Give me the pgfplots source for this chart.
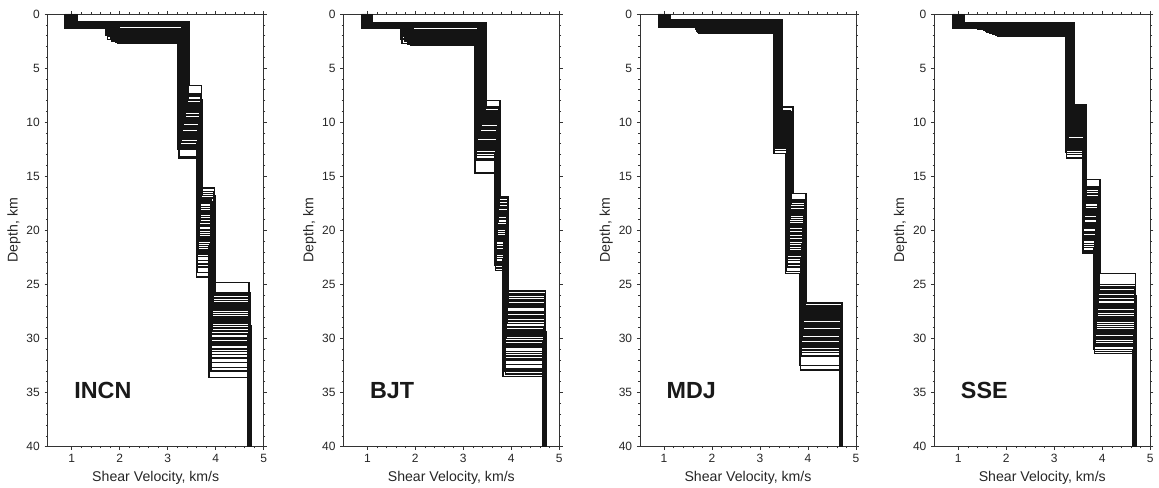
\documentclass[border=0pt]{standalone}
\usepackage{fontspec}
\setmainfont{Liberation Sans}
\usepackage{pgfplots}
\pgfplotsset{compat=1.18}

% one step profile: v1 d1 v2 d2 v3 d3 | v4 d4 v5 d5 v6  (velocity km/s, depth of layer base km)
\newcommand\prof[6]{\def\pA{#1}\def\dA{#2}\def\pB{#3}\def\dB{#4}\def\pC{#5}\def\dC{#6}\profb}
\newcommand\profb[5]{\edef\tmp{\noexpand\addplot[prof] coordinates {(\pA,0) (\pA,\dA) (\pB,\dA) (\pB,\dB) (\pC,\dB) (\pC,\dC) (#1,\dC) (#1,#2) (#3,#2) (#3,#4) (#5,#4) (#5,40)};}\tmp}

\tikzset{stn/.style={anchor=west, inner sep=0pt, font=\bfseries\fontsize{17.5}{19}\selectfont, black!90}}
\pgfplotsset{
  prof/.style={black!92, line width=1.1pt},
  vsplot/.style={
    scale only axis, width=162pt, height=324.5pt, anchor=south west,
    xmin=0.5, xmax=5, ymin=0, ymax=40, y dir=reverse,
    xtick={1,2,3,4,5}, ytick={0,5,...,40},
    minor x tick num=4, minor y tick num=4,
    tick align=outside, major tick length=2.4pt, minor tick length=1.3pt,
    axis line style={black!80, line width=0.6pt},
    every tick/.style={black!80, line width=0.45pt},
    /pgf/number format/assume math mode=true,
    tick label style={font=\fontsize{9}{10}\selectfont, black!85},
    label style={font=\fontsize{10.6}{12}\selectfont, black!85},
    xlabel={Shear Velocity, km/s}, ylabel={Depth, km},
    xlabel style={at={(axis description cs:0.5,0)}, anchor=center, yshift=-23.5pt},
    ylabel style={at={(axis description cs:-0.156,0.5)}, anchor=center},
  },
}

\begin{document}
\begin{tikzpicture}
\useasboundingbox (0,0) rectangle (869.25pt,366pt);

% ---------------- INCN ----------------
\begin{axis}[vsplot, at={(35.8pt,31pt)}]
\prof{0.95}{1.05}{1.80}{1.85}{3.30}{9.8}{3.64}{19.5}{3.92}{28.4}{4.68}
\prof{1.02}{0.90}{3.38}{0.90}{3.38}{8.2}{3.66}{17.2}{3.90}{26.3}{4.69}
\prof{0.88}{1.20}{1.75}{2.35}{3.25}{11.6}{3.62}{21.8}{3.88}{30.1}{4.67}
\prof{1.10}{0.75}{3.42}{0.75}{3.42}{7.6}{3.69}{16.4}{3.95}{25.9}{4.70}
\prof{0.92}{1.15}{1.92}{2.60}{3.22}{12.3}{3.61}{23.1}{3.86}{31.5}{4.66}
\prof{1.05}{0.85}{1.85}{1.50}{3.35}{9.1}{3.67}{18.3}{3.93}{27.2}{4.71}
\prof{0.98}{1.00}{3.32}{1.00}{3.32}{10.4}{3.63}{20.2}{3.91}{29.0}{4.68}
\prof{0.86}{1.28}{1.70}{1.95}{3.28}{11.0}{3.65}{21.0}{3.89}{28.0}{4.72}
\prof{1.08}{0.70}{3.44}{0.70}{3.44}{6.6}{3.70}{16.1}{3.97}{24.8}{4.69}
\prof{0.94}{1.10}{1.78}{2.10}{3.27}{10.9}{3.62}{22.4}{3.87}{30.6}{4.67}
\prof{1.00}{0.95}{1.88}{1.65}{3.36}{8.6}{3.68}{17.8}{3.94}{26.7}{4.70}
\prof{0.90}{1.25}{1.95}{2.70}{3.24}{13.2}{3.60}{24.3}{3.85}{32.7}{4.66}
\prof{1.06}{0.80}{3.40}{0.80}{3.40}{7.9}{3.71}{16.8}{3.99}{25.8}{4.71}
\prof{0.96}{1.12}{1.82}{2.20}{3.31}{10.1}{3.64}{19.9}{3.90}{28.8}{4.73}
\prof{0.89}{1.18}{3.29}{1.18}{3.29}{11.9}{3.61}{22.8}{3.88}{31.0}{4.66}
\prof{1.03}{0.92}{1.72}{1.40}{3.34}{9.4}{3.66}{18.7}{3.92}{27.6}{4.69}
\prof{0.93}{1.08}{1.90}{2.45}{3.26}{12.1}{3.63}{21.4}{3.86}{33.6}{4.68}
\prof{1.11}{0.68}{3.43}{0.68}{3.43}{8.0}{3.70}{17.0}{3.96}{26.0}{4.72}
\prof{0.97}{1.02}{1.76}{1.75}{3.33}{9.6}{3.65}{20.6}{3.91}{29.6}{4.67}
\prof{0.87}{1.30}{1.84}{2.55}{3.23}{13.3}{3.62}{23.9}{3.87}{32.2}{4.68}
\prof{1.04}{0.88}{3.37}{0.88}{3.37}{8.4}{3.67}{18.0}{3.94}{27.0}{4.70}
\prof{0.91}{1.16}{1.86}{2.30}{3.28}{10.7}{3.64}{20.9}{3.89}{30.3}{4.71}
\prof{0.99}{0.98}{1.74}{1.60}{3.35}{9.0}{3.68}{19.2}{3.93}{28.2}{4.69}
\prof{1.07}{0.78}{3.39}{0.78}{3.39}{7.4}{3.69}{16.6}{3.95}{26.5}{4.70}
\prof{0.92}{1.22}{1.98}{2.65}{3.21}{12.5}{3.61}{22.0}{3.88}{31.8}{4.67}
\prof{1.01}{0.96}{1.80}{1.90}{3.30}{10.3}{3.66}{19.0}{3.92}{29.3}{4.72}
\prof{0.95}{1.14}{3.31}{1.14}{3.31}{11.3}{3.63}{21.6}{3.90}{33.0}{4.68}
\prof{0.88}{1.24}{1.73}{2.00}{3.26}{11.8}{3.62}{23.4}{3.86}{30.9}{4.66}
\prof{0.97}{0.82}{3.41}{0.82}{3.41}{8.8}{3.67}{17.5}{3.93}{26.2}{4.70}
\prof{1.09}{0.72}{1.86}{1.35}{3.36}{9.3}{3.66}{18.5}{3.91}{27.4}{4.69}
\prof{0.90}{1.06}{1.79}{2.05}{3.29}{10.6}{3.64}{20.0}{3.89}{28.6}{4.68}
\prof{1.01}{0.93}{3.34}{0.93}{3.34}{9.9}{3.65}{19.6}{3.90}{29.9}{4.69}
\prof{0.93}{1.20}{1.83}{2.40}{3.25}{11.4}{3.62}{21.2}{3.88}{30.4}{4.67}
\prof{1.05}{0.86}{1.77}{1.55}{3.38}{8.9}{3.67}{18.2}{3.92}{27.8}{4.70}
\prof{0.87}{1.27}{1.93}{2.50}{3.27}{11.1}{3.63}{20.4}{3.89}{31.2}{4.68}
\prof{1.02}{0.94}{3.36}{0.94}{3.36}{10.0}{3.65}{19.3}{3.91}{28.5}{4.71}
\prof{0.94}{1.05}{1.81}{1.80}{3.31}{10.5}{3.64}{20.8}{3.90}{29.1}{4.69}
\prof{1.08}{0.74}{3.41}{0.74}{3.41}{8.3}{3.68}{17.4}{3.94}{26.9}{4.70}
\prof{0.96}{1.11}{1.87}{2.25}{3.29}{11.5}{3.63}{22.2}{3.87}{30.0}{4.68}
\prof{0.99}{0.99}{1.71}{1.70}{3.33}{9.7}{3.66}{18.9}{3.91}{27.3}{4.69}
\node[stn] at (axis cs:1.05,34.8) {INCN};
\end{axis}

% ---------------- BJT ----------------
\begin{axis}[vsplot, at={(257.5pt,31pt)}]
\prof{0.95}{1.10}{1.80}{2.20}{3.32}{10.5}{3.70}{19.8}{3.88}{29.0}{4.68}
\prof{1.03}{0.85}{3.44}{0.85}{3.44}{8.7}{3.73}{17.3}{3.92}{26.4}{4.70}
\prof{0.90}{1.25}{1.72}{2.75}{3.26}{12.9}{3.68}{22.4}{3.84}{31.6}{4.67}
\prof{1.10}{0.82}{3.47}{0.82}{3.47}{8.0}{3.76}{16.9}{3.94}{25.6}{4.71}
\prof{0.92}{1.20}{1.90}{2.85}{3.25}{13.5}{3.67}{23.7}{3.83}{33.5}{4.66}
\prof{1.06}{0.90}{1.85}{1.60}{3.40}{9.3}{3.72}{18.4}{3.91}{27.5}{4.70}
\prof{0.98}{1.05}{3.36}{1.05}{3.36}{10.9}{3.70}{20.5}{3.89}{29.8}{4.69}
\prof{0.88}{1.30}{1.70}{2.30}{3.30}{11.7}{3.69}{21.3}{3.86}{30.5}{4.72}
\prof{1.08}{0.80}{3.48}{0.80}{3.48}{8.6}{3.75}{17.0}{3.93}{26.0}{4.69}
\prof{0.94}{1.15}{1.78}{2.50}{3.28}{12.2}{3.68}{22.9}{3.85}{32.4}{4.67}
\prof{1.01}{0.95}{1.88}{1.85}{3.38}{9.7}{3.71}{18.9}{3.90}{28.1}{4.71}
\prof{0.89}{1.28}{1.93}{2.90}{3.24}{14.7}{3.66}{23.2}{3.82}{33.0}{4.66}
\prof{1.05}{0.88}{3.45}{0.88}{3.45}{9.0}{3.74}{17.6}{3.93}{26.8}{4.70}
\prof{0.96}{1.12}{1.82}{2.40}{3.33}{11.2}{3.70}{20.1}{3.88}{29.4}{4.72}
\prof{0.91}{1.22}{3.29}{1.22}{3.29}{12.6}{3.67}{21.9}{3.86}{31.2}{4.68}
\prof{1.04}{0.92}{1.75}{1.50}{3.41}{10.0}{3.72}{19.3}{3.91}{27.9}{4.69}
\prof{0.93}{1.18}{1.87}{2.65}{3.27}{13.1}{3.68}{21.0}{3.85}{32.8}{4.67}
\prof{1.11}{0.84}{3.46}{0.84}{3.46}{8.9}{3.75}{17.9}{3.92}{26.2}{4.71}
\prof{0.97}{1.08}{1.76}{2.05}{3.35}{10.7}{3.70}{20.8}{3.89}{30.0}{4.68}
\prof{0.90}{1.27}{1.84}{2.80}{3.26}{13.4}{3.67}{23.5}{3.84}{32.0}{4.66}
\prof{1.02}{0.98}{3.39}{0.98}{3.39}{9.5}{3.73}{18.6}{3.90}{27.1}{4.70}
\prof{0.92}{1.16}{1.86}{2.55}{3.30}{11.9}{3.69}{22.2}{3.87}{30.8}{4.72}
\prof{0.99}{1.02}{1.74}{1.75}{3.37}{10.2}{3.71}{19.5}{3.91}{28.6}{4.69}
\prof{1.07}{0.86}{3.43}{0.86}{3.43}{9.2}{3.74}{17.5}{3.94}{25.9}{4.70}
\prof{0.93}{1.24}{1.95}{2.70}{3.25}{12.8}{3.66}{22.6}{3.83}{31.9}{4.67}
\prof{1.00}{1.00}{1.80}{2.15}{3.34}{11.0}{3.70}{20.3}{3.90}{29.2}{4.71}
\prof{0.95}{1.14}{3.31}{1.14}{3.31}{11.5}{3.69}{21.6}{3.88}{33.3}{4.68}
\prof{0.88}{1.26}{1.73}{2.25}{3.28}{12.4}{3.68}{23.0}{3.85}{30.3}{4.66}
\prof{0.97}{0.93}{3.42}{0.93}{3.42}{9.4}{3.72}{18.2}{3.91}{27.0}{4.70}
\prof{1.09}{0.83}{1.83}{1.70}{3.40}{9.8}{3.73}{18.7}{3.90}{27.7}{4.69}
\prof{0.91}{1.19}{1.77}{2.35}{3.30}{11.4}{3.69}{20.6}{3.88}{29.6}{4.68}
\prof{1.02}{0.96}{3.37}{0.96}{3.37}{10.4}{3.71}{19.7}{3.89}{28.4}{4.69}
\prof{0.94}{1.21}{1.85}{2.60}{3.27}{12.0}{3.68}{21.5}{3.87}{30.6}{4.67}
\prof{1.05}{0.89}{1.79}{1.95}{3.39}{9.6}{3.72}{18.0}{3.92}{26.6}{4.70}
\prof{0.89}{1.27}{1.91}{2.75}{3.26}{12.5}{3.67}{22.0}{3.86}{31.4}{4.68}
\prof{1.01}{1.01}{3.35}{1.01}{3.35}{10.6}{3.70}{19.9}{3.90}{28.9}{4.71}
\prof{0.95}{1.10}{1.81}{2.30}{3.32}{11.3}{3.69}{20.7}{3.89}{29.7}{4.69}
\prof{1.07}{0.85}{3.44}{0.85}{3.44}{9.1}{3.74}{17.8}{3.93}{26.5}{4.70}
\prof{0.96}{1.13}{1.89}{2.45}{3.29}{11.8}{3.68}{21.8}{3.87}{30.2}{4.68}
\prof{0.99}{1.03}{1.73}{1.90}{3.36}{10.1}{3.71}{19.0}{3.91}{27.6}{4.69}
\node[stn] at (axis cs:1.05,34.8) {BJT};
\end{axis}

% ---------------- MDJ ----------------
\begin{axis}[vsplot, at={(480pt,31pt)}]
\prof{0.98}{0.80}{3.40}{0.80}{3.40}{10.2}{3.60}{19.4}{3.90}{28.6}{4.69}
\prof{1.08}{0.60}{3.45}{0.60}{3.45}{8.9}{3.64}{17.9}{3.93}{27.2}{4.70}
\prof{0.90}{1.10}{1.68}{1.28}{3.33}{11.8}{3.57}{22.3}{3.86}{31.0}{4.67}
\prof{1.14}{0.52}{3.47}{0.52}{3.47}{8.6}{3.69}{16.6}{3.96}{26.7}{4.71}
\prof{0.92}{1.05}{1.72}{1.75}{3.30}{12.6}{3.55}{23.8}{3.84}{32.9}{4.66}
\prof{1.05}{0.70}{3.43}{0.70}{3.43}{9.4}{3.62}{18.5}{3.92}{27.6}{4.70}
\prof{0.96}{1.12}{3.38}{1.12}{3.38}{10.8}{3.59}{20.6}{3.89}{29.4}{4.68}
\prof{0.89}{1.15}{1.66}{1.40}{3.35}{11.3}{3.58}{21.2}{3.87}{28.0}{4.72}
\prof{1.12}{0.55}{3.46}{0.55}{3.46}{9.0}{3.65}{17.2}{3.94}{27.0}{4.69}
\prof{0.94}{1.00}{1.74}{1.80}{3.32}{11.9}{3.56}{22.8}{3.85}{30.2}{4.67}
\prof{1.01}{0.75}{3.41}{0.75}{3.41}{9.8}{3.63}{18.8}{3.91}{28.3}{4.71}
\prof{0.91}{1.18}{1.70}{1.65}{3.29}{12.9}{3.53}{24.0}{3.83}{32.5}{4.66}
\prof{1.07}{0.62}{3.44}{0.62}{3.44}{9.1}{3.66}{17.6}{3.95}{27.4}{4.70}
\prof{0.97}{0.88}{3.39}{0.88}{3.39}{10.5}{3.60}{20.0}{3.90}{29.0}{4.72}
\prof{0.90}{1.12}{1.67}{1.32}{3.34}{11.5}{3.57}{21.7}{3.87}{30.6}{4.67}
\prof{1.03}{0.72}{3.42}{0.72}{3.42}{9.6}{3.63}{19.0}{3.92}{27.8}{4.69}
\prof{0.93}{1.02}{1.73}{1.70}{3.31}{12.2}{3.56}{23.1}{3.85}{31.6}{4.68}
\prof{1.10}{0.58}{3.46}{0.58}{3.46}{9.2}{3.64}{18.1}{3.93}{27.1}{4.71}
\prof{0.99}{1.18}{3.37}{1.18}{3.37}{10.9}{3.59}{20.4}{3.89}{29.7}{4.67}
\prof{0.88}{1.20}{1.69}{1.60}{3.30}{12.4}{3.55}{22.6}{3.84}{30.8}{4.68}
\prof{1.04}{0.68}{3.43}{0.68}{3.43}{9.9}{3.62}{19.2}{3.91}{28.0}{4.70}
\prof{0.92}{1.06}{1.75}{1.78}{3.32}{11.1}{3.58}{21.5}{3.86}{30.0}{4.72}
\prof{1.00}{0.78}{3.40}{0.78}{3.40}{10.0}{3.61}{19.7}{3.90}{28.9}{4.69}
\prof{1.09}{0.65}{3.45}{0.65}{3.45}{9.3}{3.65}{17.4}{3.94}{27.3}{4.70}
\prof{0.95}{1.05}{3.36}{1.05}{3.36}{11.6}{3.57}{21.0}{3.88}{29.9}{4.67}
\prof{1.02}{0.74}{3.41}{0.74}{3.41}{10.3}{3.61}{20.2}{3.91}{28.5}{4.71}
\prof{0.96}{0.92}{3.38}{0.92}{3.38}{11.0}{3.60}{22.0}{3.87}{31.3}{4.68}
\prof{0.91}{1.08}{1.71}{1.50}{3.33}{12.0}{3.56}{23.4}{3.86}{30.4}{4.66}
\prof{0.97}{0.82}{3.39}{0.82}{3.39}{10.4}{3.60}{19.6}{3.90}{28.2}{4.70}
\prof{1.06}{0.66}{3.44}{0.66}{3.44}{9.5}{3.63}{18.3}{3.92}{27.5}{4.69}
\prof{0.92}{1.04}{1.72}{1.24}{3.32}{11.4}{3.58}{21.4}{3.87}{29.6}{4.68}
\prof{1.00}{0.80}{3.40}{0.80}{3.40}{10.1}{3.61}{19.9}{3.90}{28.8}{4.69}
\prof{0.93}{1.10}{1.70}{1.72}{3.31}{12.1}{3.56}{22.5}{3.86}{31.1}{4.67}
\prof{1.04}{0.70}{3.42}{0.70}{3.42}{9.7}{3.62}{18.6}{3.91}{27.9}{4.70}
\prof{0.89}{1.14}{1.68}{1.36}{3.33}{11.7}{3.57}{21.9}{3.86}{30.1}{4.68}
\prof{1.02}{0.76}{3.41}{0.76}{3.41}{10.6}{3.61}{20.3}{3.90}{29.2}{4.71}
\prof{0.95}{1.10}{3.37}{1.10}{3.37}{11.2}{3.59}{20.9}{3.88}{29.5}{4.69}
\prof{1.08}{0.63}{3.45}{0.63}{3.45}{9.4}{3.64}{17.8}{3.93}{27.7}{4.70}
\prof{0.94}{1.03}{1.74}{1.76}{3.32}{11.8}{3.57}{22.1}{3.87}{30.5}{4.68}
\prof{0.99}{1.16}{3.38}{1.16}{3.38}{10.7}{3.60}{19.5}{3.89}{28.7}{4.69}
\node[stn] at (axis cs:1.05,34.8) {MDJ};
\end{axis}

% ---------------- SSE ----------------
\begin{axis}[vsplot, at={(700.7pt,31pt)}]
\prof{0.96}{1.05}{1.70}{1.75}{3.30}{10.3}{3.63}{18.5}{3.89}{27.5}{4.67}
\prof{1.04}{0.88}{3.38}{0.88}{3.38}{8.8}{3.65}{16.6}{3.92}{25.2}{4.68}
\prof{0.90}{1.20}{1.82}{2.05}{3.27}{12.2}{3.61}{20.3}{3.86}{29.8}{4.66}
\prof{1.12}{0.82}{3.40}{0.82}{3.40}{8.4}{3.67}{15.3}{3.95}{24.0}{4.69}
\prof{0.92}{1.25}{1.88}{2.10}{3.25}{13.3}{3.60}{22.1}{3.84}{31.4}{4.65}
\prof{1.06}{0.92}{1.45}{1.35}{3.36}{9.2}{3.64}{17.0}{3.91}{26.0}{4.70}
\prof{0.98}{1.00}{3.34}{1.00}{3.34}{10.8}{3.62}{19.0}{3.88}{28.0}{4.67}
\prof{0.89}{1.28}{1.75}{1.90}{3.29}{11.5}{3.62}{19.8}{3.87}{29.0}{4.68}
\prof{1.10}{0.80}{3.41}{0.80}{3.41}{8.6}{3.66}{16.4}{3.93}{25.0}{4.69}
\prof{0.94}{1.15}{1.60}{1.65}{3.28}{11.9}{3.61}{20.8}{3.85}{30.3}{4.66}
\prof{1.01}{0.95}{1.35}{1.30}{3.37}{9.6}{3.65}{17.5}{3.90}{26.5}{4.70}
\prof{0.90}{1.22}{1.85}{2.08}{3.24}{12.8}{3.60}{21.6}{3.83}{31.0}{4.64}
\prof{1.07}{0.86}{3.39}{0.86}{3.39}{9.0}{3.66}{16.9}{3.94}{25.4}{4.69}
\prof{0.97}{1.10}{1.65}{1.80}{3.31}{10.6}{3.63}{18.8}{3.88}{27.8}{4.68}
\prof{0.91}{1.18}{3.28}{1.18}{3.28}{12.0}{3.61}{20.5}{3.86}{30.0}{4.66}
\prof{1.03}{0.90}{1.50}{1.45}{3.35}{9.8}{3.64}{17.8}{3.91}{26.8}{4.70}
\prof{0.93}{1.16}{1.78}{1.98}{3.26}{12.5}{3.60}{21.2}{3.85}{30.7}{4.67}
\prof{1.13}{0.84}{3.40}{0.84}{3.40}{8.5}{3.67}{16.0}{3.93}{25.6}{4.69}
\prof{0.99}{1.02}{1.55}{1.55}{3.33}{10.1}{3.63}{18.2}{3.89}{27.2}{4.68}
\prof{0.88}{1.30}{1.90}{2.10}{3.25}{13.0}{3.60}{21.9}{3.84}{31.2}{4.65}
\prof{1.05}{0.94}{3.37}{0.94}{3.37}{9.4}{3.65}{17.2}{3.92}{26.2}{4.70}
\prof{0.92}{1.14}{1.72}{1.85}{3.29}{11.2}{3.62}{19.6}{3.87}{29.4}{4.67}
\prof{1.00}{0.98}{1.40}{1.40}{3.34}{10.0}{3.64}{18.0}{3.90}{27.0}{4.68}
\prof{1.08}{0.87}{3.39}{0.87}{3.39}{8.9}{3.66}{16.2}{3.94}{25.8}{4.69}
\prof{0.93}{1.24}{1.86}{2.02}{3.26}{12.6}{3.61}{21.4}{3.85}{30.5}{4.66}
\prof{1.02}{0.96}{1.62}{1.70}{3.32}{10.4}{3.63}{18.6}{3.89}{28.4}{4.70}
\prof{0.95}{1.08}{3.30}{1.08}{3.30}{11.0}{3.62}{19.3}{3.88}{28.8}{4.67}
\prof{0.89}{1.26}{1.80}{1.95}{3.27}{11.7}{3.61}{20.1}{3.86}{29.6}{4.65}
\prof{0.97}{0.97}{1.58}{1.60}{3.33}{10.2}{3.63}{18.4}{3.89}{27.6}{4.68}
\prof{1.07}{0.85}{3.39}{0.85}{3.39}{9.1}{3.65}{17.1}{3.92}{26.1}{4.69}
\prof{0.91}{1.19}{1.76}{1.92}{3.28}{11.6}{3.61}{20.2}{3.86}{29.2}{4.66}
\prof{1.02}{0.93}{1.48}{1.42}{3.35}{9.9}{3.64}{18.1}{3.90}{26.9}{4.69}
\prof{0.94}{1.13}{1.68}{1.78}{3.30}{11.3}{3.62}{19.7}{3.87}{28.6}{4.67}
\prof{1.05}{0.89}{3.38}{0.89}{3.38}{9.5}{3.65}{17.4}{3.91}{26.4}{4.70}
\prof{0.90}{1.23}{1.84}{2.04}{3.27}{12.3}{3.61}{20.9}{3.85}{30.1}{4.66}
\prof{1.00}{1.00}{1.52}{1.50}{3.34}{10.5}{3.63}{18.9}{3.89}{27.4}{4.68}
\prof{0.96}{1.07}{3.31}{1.07}{3.31}{10.9}{3.62}{19.4}{3.88}{28.2}{4.67}
\prof{1.09}{0.83}{1.42}{1.36}{3.38}{9.3}{3.66}{16.7}{3.93}{25.3}{4.69}
\prof{0.92}{1.17}{1.74}{1.88}{3.29}{11.8}{3.61}{20.6}{3.86}{29.9}{4.66}
\prof{1.01}{0.95}{1.66}{1.75}{3.32}{10.7}{3.63}{18.3}{3.89}{28.1}{4.68}
\node[stn] at (axis cs:1.05,34.8) {SSE};
\end{axis}
\end{tikzpicture}
\end{document}
